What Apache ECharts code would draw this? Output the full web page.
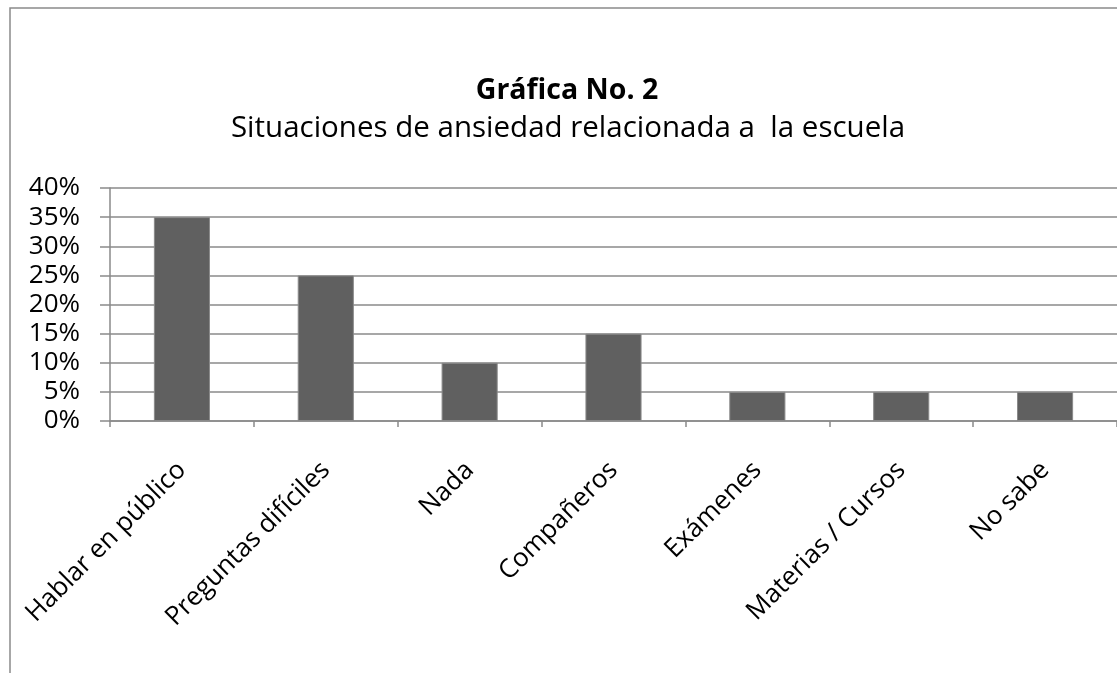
<!DOCTYPE html>
<html>
<head>
<meta charset="utf-8">
<script src="https://cdn.jsdelivr.net/npm/echarts@6/dist/echarts.min.js"></script>
<style>
  html, body { margin: 0; padding: 0; background: #fff; }
  #chart { width: 1117px; height: 673px; }
</style>
</head>
<body>
<div id="chart"></div>
<script>
const categories = ['Hablar en público', 'Preguntas difíciles', 'Nada', 'Compañeros', 'Exámenes', 'Materias / Cursos', 'No sabe']
const values = [35, 25, 10, 15, 5, 5, 5]
const yTicks = [0, 5, 10, 15, 20, 25, 30, 35, 40]

const font = '"Open Sans", Lato, sans-serif'
const chart = echarts.init(document.getElementById('chart'))

chart.setOption({
  animation: false,
  backgroundColor: '#fff',
  graphic: [
    {
      type: 'rect',
      shape: { x: 10, y: 8, width: 1110, height: 700 },
      style: { fill: 'none', stroke: '#8a8a8a', lineWidth: 1.5 },
      silent: true,
    },
  ],
  title: [
    {
      text: 'Gráfica No. 2',
      left: 562,
      textAlign: 'center',
      top: 71,
      textStyle: { fontFamily: font, fontSize: 28.5, fontWeight: 'bold', color: '#000' },
    },
    {
      text: 'Situaciones de ansiedad relacionada a  la escuela',
      left: 563,
      textAlign: 'center',
      top: 109,
      textStyle: { fontFamily: font, fontSize: 29.5, fontWeight: 'normal', color: '#000' },
    },
  ],
  grid: { left: 110, right: -12, top: 188, bottom: 673 - 421, containLabel: false },
  xAxis: {
    type: 'category',
    data: categories,
    axisLine: { lineStyle: { color: '#8a8a8a', width: 1.5 } },
    axisTick: { show: true, length: 6, alignWithLabel: false, lineStyle: { color: '#8a8a8a', width: 1.5 } },
    axisLabel: {
      interval: 0,
      rotate: 45,
      margin: 45,
      color: '#000',
      fontFamily: font,
      fontSize: 26,
    },
  },
  yAxis: {
    type: 'value',
    min: yTicks[0],
    max: yTicks[yTicks.length - 1],
    interval: 5,
    axisLine: { show: true, lineStyle: { color: '#8a8a8a', width: 1.5 } },
    axisTick: { show: true, length: 10, lineStyle: { color: '#8a8a8a', width: 1.5 } },
    axisLabel: {
      formatter: (v) => v + '%',
      margin: 30,
      color: '#000',
      fontFamily: font,
      fontSize: 26,
    },
    splitLine: { lineStyle: { color: '#8a8a8a', width: 1.5 } },
  },
  series: [
    {
      type: 'bar',
      data: values,
      barWidth: '39%',
      itemStyle: { color: '#606060', borderColor: '#8a8a8a', borderWidth: 1 },
    },
  ],
})
</script>
</body>
</html>
